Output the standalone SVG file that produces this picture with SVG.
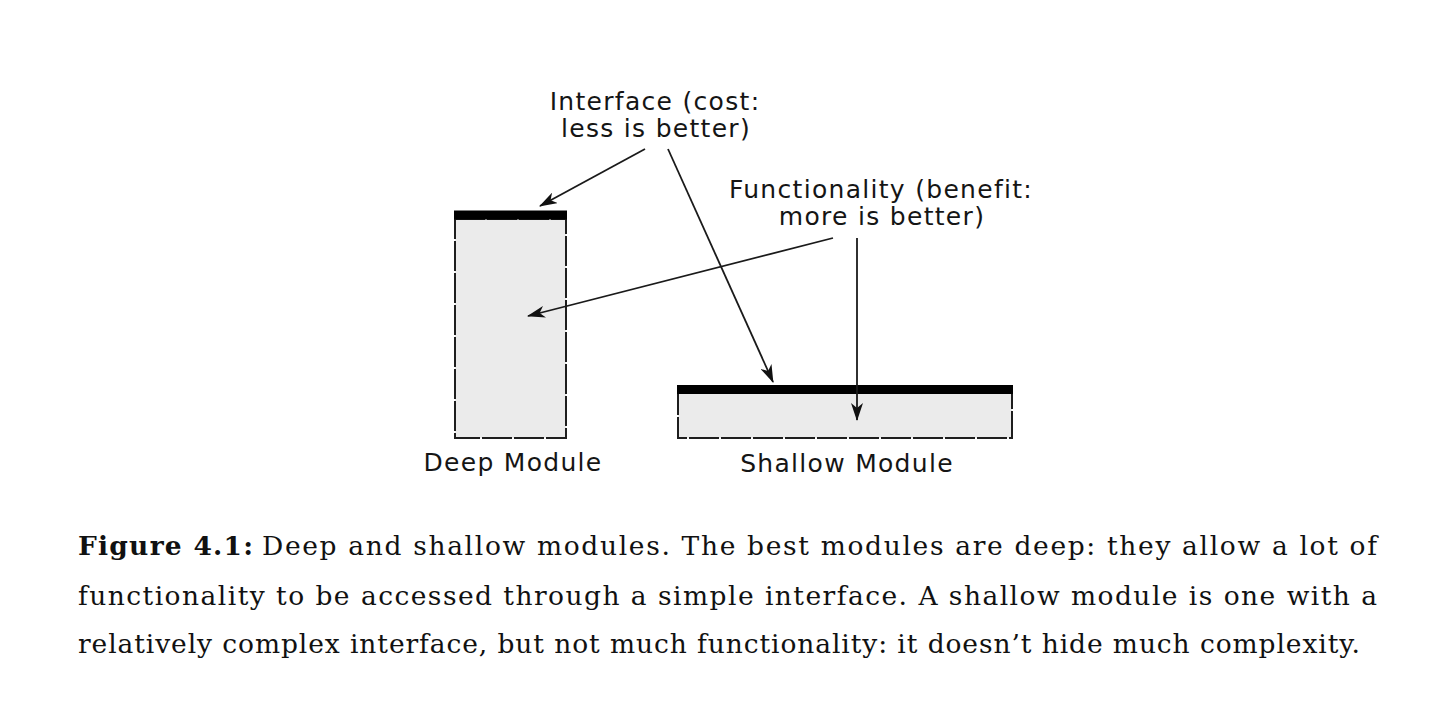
<svg xmlns="http://www.w3.org/2000/svg" width="1430" height="708" viewBox="0 0 1430 708">
  <style>
    .lbl { font-family: "DejaVu Sans", Verdana, sans-serif; font-size: 25px; letter-spacing: 1.3px; fill: #151515; text-anchor: middle; }
    .cap { font-family: "DejaVu Serif", "Liberation Serif", serif; font-size: 26.5px; fill: #111; }
    .capb { font-weight: bold; }
    .body { fill: #ebebeb; stroke: #1e1e1e; stroke-width: 2; stroke-dasharray: 30 2; }
    .bar { fill: #000; }
    .conn { stroke: #1a1a1a; stroke-width: 1.8; fill: none; marker-end: url(#ah); }
  </style>
  <defs>
    <marker id="ah" viewBox="0 0 18 12" refX="17" refY="6" markerWidth="18" markerHeight="12" markerUnits="userSpaceOnUse" orient="auto">
      <path d="M0,0 L18,6 L0,12 L5,6 Z" fill="#111"/>
    </marker>
  </defs>
  <rect width="1430" height="708" fill="#fff"/>

  <g id="deep-module">
    <rect class="body" x="455" y="219" width="111" height="219"/>
    <rect class="bar" x="454" y="210.5" width="113" height="9"/>
    <text class="lbl" x="513" y="471">Deep Module</text>
  </g>

  <g id="shallow-module">
    <rect class="body" x="678" y="393" width="334" height="45"/>
    <rect class="bar" x="677" y="385" width="336" height="9"/>
    <text class="lbl" x="847" y="472">Shallow Module</text>
  </g>

  <g id="interface-label">
    <text class="lbl" x="655" y="110">Interface (cost:</text>
    <text class="lbl" x="656" y="137">less is better)</text>
  </g>

  <g id="functionality-label">
    <text class="lbl" x="881" y="198">Functionality (benefit:</text>
    <text class="lbl" x="882" y="225">more is better)</text>
  </g>

  <g id="connectors">
    <line class="conn" x1="645" y1="149" x2="540" y2="206"/>
    <line class="conn" x1="668" y1="149" x2="773" y2="382"/>
    <line class="conn" x1="833" y1="238" x2="528" y2="316"/>
    <line class="conn" x1="857" y1="238" x2="857" y2="420"/>
  </g>

  <g id="caption">
    <text class="cap capb" x="78" y="555" textLength="175" lengthAdjust="spacing">Figure 4.1:</text>
    <text class="cap" x="262" y="555" textLength="1115" lengthAdjust="spacing">Deep and shallow modules. The best modules are deep: they allow a lot of</text>
    <text class="cap" x="78" y="605" textLength="1299" lengthAdjust="spacing">functionality to be accessed through a simple interface. A shallow module is one with a</text>
    <text class="cap" x="78" y="653" textLength="1282" lengthAdjust="spacing">relatively complex interface, but not much functionality: it doesn’t hide much complexity.</text>
  </g>
</svg>
